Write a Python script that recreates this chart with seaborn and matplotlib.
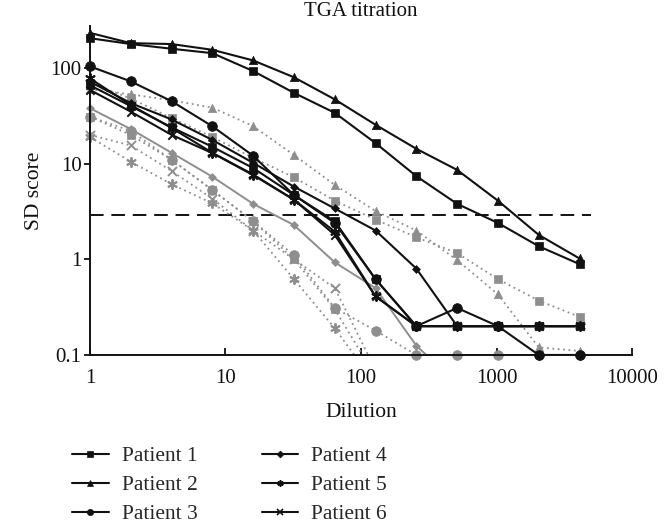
import numpy as np
import pandas as pd
import matplotlib
matplotlib.use('Agg')
import matplotlib.pyplot as plt
from matplotlib.lines import Line2D
import seaborn as sns

sns.set_style('ticks')
plt.rcParams['font.family'] = ['Liberation Serif', 'DejaVu Serif']

# ── data ──────────────────────────────────────────────────────
dilution = [1, 2, 4, 8, 16, 32, 64, 128, 256, 512, 1024, 2048, 4096]
nan = np.nan

# black solid series (legend)
patient1 = [205, 178, 159, 143, 93, 55, 34, 16.4, 7.4, 3.8, 2.4, 1.37, 0.89]
patient2 = [233, 182, 178, 155, 120, 80, 47, 25.5, 14.3, 8.6, 4.1, 1.8, 1.02]
patient3 = [104, 72.5, 45, 24.6, 12.1, 4.7, 2.4, 0.62, 0.2, 0.31, 0.2, 0.1, 0.1]
patient4 = [72, 43, 29, 17.7, 10.2, 5.75, 3.4, 2.0, 0.8, 0.2, 0.2, 0.2, 0.2]
patient5 = [78, 41, 23.6, 13, 7.7, 4.2, 1.95, 0.41, 0.2, 0.2, 0.2, 0.2, 0.2]
patient6 = [59, 35, 20, 12.9, 7.6, 4.2, 1.8, 0.41, 0.2, 0.2, 0.2, 0.2, 0.2]
black_extra = [66, 40, 24, 15, 9, 4.7, 2.5, 0.62, 0.2, 0.2, 0.2, 0.2, 0.2]

# gray series (no legend entry visible)
gray_sq_hi = [70, 48, 30, 19, 11.5, 7.2, 4.1, 2.6, 1.7, 1.16, 0.62, 0.37, 0.25]
gray_tri = [60, 53, 46, 38.5, 24.7, 12.3, 6.0, 3.2, 2.0, 0.98, 0.43, 0.12, 0.11]
gray_dia = [38, 23, 13, 7.3, 3.8, 2.28, 0.93, 0.5, 0.125, 0.05, nan, nan, nan]
gray_circ = [31, 22, 11.0, 5.3, 2.52, 1.1, 0.31, 0.18, 0.1, 0.1, 0.1, 0.1, 0.1]
gray_sq_lo = [31, 20, 11.0, 5.3, 2.5, 1.0, 0.3, 0.06, nan, nan, nan, nan, nan]
gray_x = [20, 15.5, 8.4, 4.3, 2.0, 1.0, 0.5, 0.07, nan, nan, nan, nan, nan]
gray_ast = [19, 10.5, 6.1, 3.85, 2.0, 0.62, 0.19, 0.05, nan, nan, nan, nan, nan]

cutoff = 2.9
cutoff_end = 5000

BLACK = '#111111'
GRAY = '#8e8e8e'
ASTER = (6, 2, 0)
DOT = (0, (1, 2))

fig = plt.figure(figsize=(6.71, 5.29), dpi=100)
ax = fig.add_axes([0.134, 0.329, 0.808, 0.622])
ax.set_xscale('log')
ax.set_yscale('log')


def draw(vals, color, marker, ms, ls='-', lw=1.5, z=2):
    d = pd.DataFrame({'dil': dilution, 'sd': vals}).dropna()
    sns.lineplot(data=d, x='dil', y='sd', ax=ax, color=color, lw=lw,
                 linestyle=ls, estimator=None, sort=False, zorder=z)
    pts = d[d['sd'] >= 0.0999]
    unfilled = marker in ('x', ASTER)
    kw = dict(linewidth=1.4) if unfilled else dict(edgecolor=color, linewidth=0.5)
    sns.scatterplot(data=pts, x='dil', y='sd', ax=ax, marker=marker, s=ms ** 2,
                    color=color, clip_on=False, zorder=z + 0.5, legend=False, **kw)


# gray first, black on top
draw(gray_sq_hi, GRAY, 's', 5.5, DOT, 1.3)
draw(gray_tri, GRAY, '^', 6, DOT, 1.3)
draw(gray_circ, GRAY, 'o', 7, DOT, 1.3)
draw(gray_sq_lo, GRAY, 's', 6, DOT, 1.3)
draw(gray_x, GRAY, 'x', 6.5, DOT, 1.3)
draw(gray_ast, GRAY, ASTER, 6.5, DOT, 1.3)
draw(gray_dia, GRAY, 'D', 4, '-', 1.4)

draw(black_extra, BLACK, 's', 6, z=3)
draw(patient1, BLACK, 's', 5.5, z=3)
draw(patient2, BLACK, '^', 6, z=3)
draw(patient3, BLACK, 'o', 7, z=3)
draw(patient4, BLACK, 'D', 4, z=3)
draw(patient5, BLACK, ASTER, 6.5, z=3)
draw(patient6, BLACK, 'x', 6, z=3)

ax.hlines(cutoff, 1, cutoff_end, colors=BLACK, linestyles=(0, (7, 4)), lw=1.4, zorder=1)

ax.set_xlim(1, 10000)
ax.set_ylim(0.1, 10 ** 2.44)
ax.minorticks_off()
ax.set_xticks([1, 10, 100, 1000, 10000], labels=['1', '10', '100', '1000', '10000'])
ax.set_yticks([0.1, 1, 10, 100], labels=['0.1', '1', '10', '100'])
ax.tick_params(axis='x', direction='in', length=5, width=1.3, pad=10, labelsize=15, colors=BLACK)
ax.tick_params(axis='y', direction='out', length=4, width=1.3, pad=2, labelsize=15, colors=BLACK)
sns.despine(ax=ax)
for s in ('left', 'bottom'):
    ax.spines[s].set_linewidth(1.4)
    ax.spines[s].set_color(BLACK)

ax.set_title('TGA titration', fontsize=15, pad=7, color=BLACK)
ax.set_xlabel('Dilution', fontsize=15.5, labelpad=11, color=BLACK)
ax.set_ylabel('SD score', fontsize=15.5, labelpad=5, color=BLACK)

# legend (Patient 1-6 only; figure crops its bottom row like the reference)
names = ['Patient 1', 'Patient 2', 'Patient 3', 'Patient 4', 'Patient 5', 'Patient 6']
mks = ['s', '^', 'o', 'D', ASTER, 'x']
handles = [Line2D([], [], color=BLACK, lw=1.5, marker=m, ms=4.5 if m != 'D' else 3.5,
                  mew=1.2 if m in ('x', ASTER) else 0.5) for m in mks]
fig.legend(handles, names, loc='upper left', bbox_to_anchor=(72 / 671, 1 - 446 / 529),
           ncol=2, frameon=False, fontsize=15.5, handlelength=1.7, handletextpad=0.6,
           columnspacing=3.0, labelspacing=0.42, borderpad=0, borderaxespad=0)

fig.savefig('out.png', dpi=100)
